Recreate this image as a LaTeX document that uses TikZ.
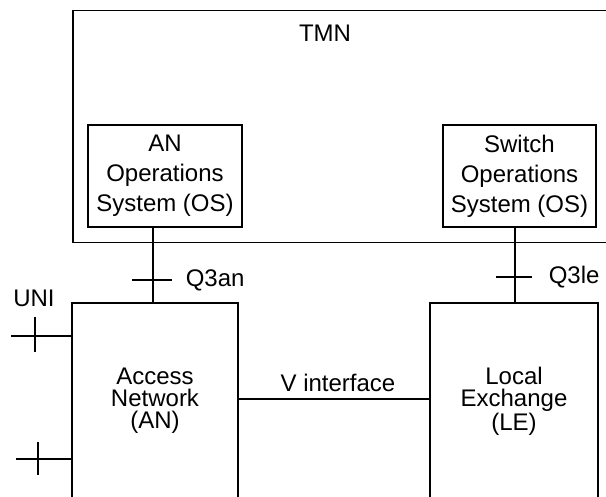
\documentclass[tikz,border=0pt]{standalone}
\usepackage{fontspec}
\setmainfont{Liberation Sans}
\usetikzlibrary{positioning}
\tikzset{
  box/.style={draw, align=center, inner sep=0pt},
  osbox/.style={font=\fontsize{12}{15}\selectfont, minimum height=51pt},
  nebox/.style={font=\fontsize{12}{11}\selectfont, minimum height=98pt},
  lbl/.style={font=\fontsize{12}{15}\selectfont, inner sep=0pt},
}

\begin{document}
\begin{tikzpicture}[x=0.5pt,y=-0.5pt,line width=0.75pt]
  \useasboundingbox (0,0) rectangle (606,497);
  \clip (0,0) rectangle (606,497);
  % management network, cut off at the right
  \node[box, minimum width=280pt, minimum height=116pt, anchor=north west] (tmn) at (72,10) {};
  \node[lbl] (tmnlbl) at (325,33) {TMN};
  \node[box, osbox, minimum width=77pt] (anos) at (165,176) {AN\\Operations\\System (OS)};
  \node[box, osbox, minimum width=76.5pt] (swos) at (519.5,176) {Switch\\Operations\\System (OS)};
  % network elements, open at the bottom
  \node[box, nebox, minimum width=83pt] (an) at (155,401) {Access\\Network\\(AN)};
  \node[box, nebox, minimum width=84pt] (le) at (514,401) {Local\\Exchange\\(LE)};
  % Q3 interfaces
  \coordinate (q3an) at (153,280);
  \draw (anos.south -| q3an) -- (an.north -| q3an);
  \draw ([xshift=-10.5pt]q3an) -- ([xshift=9.5pt]q3an);
  \node[lbl, anchor=west] (q3anlbl) at (185,280) {Q3an};
  \coordinate (q3le) at (515,277);
  \draw (swos.south -| q3le) -- (le.north -| q3le);
  \draw ([xshift=-9.5pt]q3le) -- ([xshift=8.5pt]q3le);
  \node[lbl, anchor=west] (q3lelbl) at (548,277) {Q3le};
  % user network interfaces
  \node[lbl] (unilbl) at (34,298) {UNI};
  \coordinate (uni1) at (11,336);
  \draw (uni1) -- (uni1 -| an.west);
  \draw (35,317) -- (35,352);
  \coordinate (uni2) at (16,459);
  \draw (uni2) -- (uni2 -| an.west);
  \draw (38,442) -- (38,475);
  % V interface
  \draw ([yshift=1pt]an.east) -- ([yshift=1pt]an.east -| le.west);
  \node[lbl] (vlbl) at (338,383) {V interface};
\end{tikzpicture}
\end{document}
